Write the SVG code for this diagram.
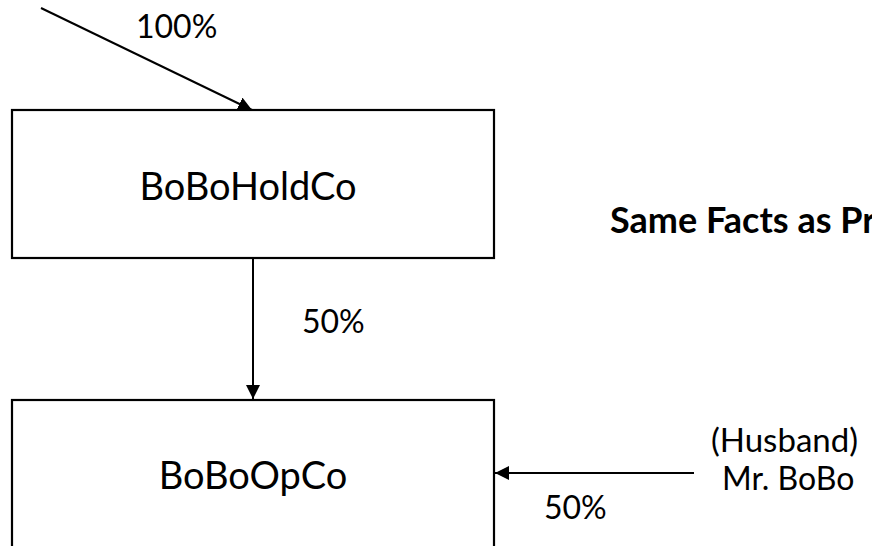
<svg xmlns="http://www.w3.org/2000/svg" width="872" height="546" viewBox="0 0 872 546">
  <style>
    .box { fill: #ffffff; stroke: #000000; stroke-width: 2.2; }
    .lbl { font-family: Lato, "Liberation Sans", sans-serif; font-size: 32px; fill: #000000; }
    .big { font-size: 38px; }
    .side { font-size: 33px; }
    .bold { font-weight: bold; font-size: 36px; }
    .edge { stroke: #000000; stroke-width: 2; fill: none; marker-end: url(#arrow); }
  </style>
  <defs>
    <marker id="arrow" viewBox="0 0 10 10" refX="10" refY="5" markerWidth="7" markerHeight="7" orient="auto" markerUnits="strokeWidth">
      <path d="M0,0 L10,5 L0,10 z" fill="#000000"/>
    </marker>
  </defs>
  <rect width="872" height="546" fill="#ffffff"/>

  <g id="holdco">
    <rect class="box" x="12" y="110" width="482" height="148"/>
    <text class="lbl big" x="248" y="200" text-anchor="middle">BoBoHoldCo</text>
  </g>

  <g id="opco">
    <rect class="box" x="12" y="400" width="482" height="148"/>
    <text class="lbl big" x="253" y="489" text-anchor="middle">BoBoOpCo</text>
  </g>

  <g id="mrbobo">
    <text class="lbl side" x="711" y="452">(Husband)</text>
    <text class="lbl" x="722" y="490">Mr. BoBo</text>
  </g>

  <g id="note">
    <text class="lbl bold" x="610" y="233">Same Facts as Pr</text>
  </g>

  <g id="connectors">
    <line class="edge" x1="41" y1="8" x2="252" y2="110"/>
    <text class="lbl" x="136" y="38">100%</text>
    <line class="edge" x1="253" y1="258" x2="253" y2="399"/>
    <text class="lbl" x="302" y="333">50%</text>
    <line class="edge" x1="694" y1="473" x2="495" y2="473"/>
    <text class="lbl" x="544" y="519">50%</text>
  </g>
</svg>
